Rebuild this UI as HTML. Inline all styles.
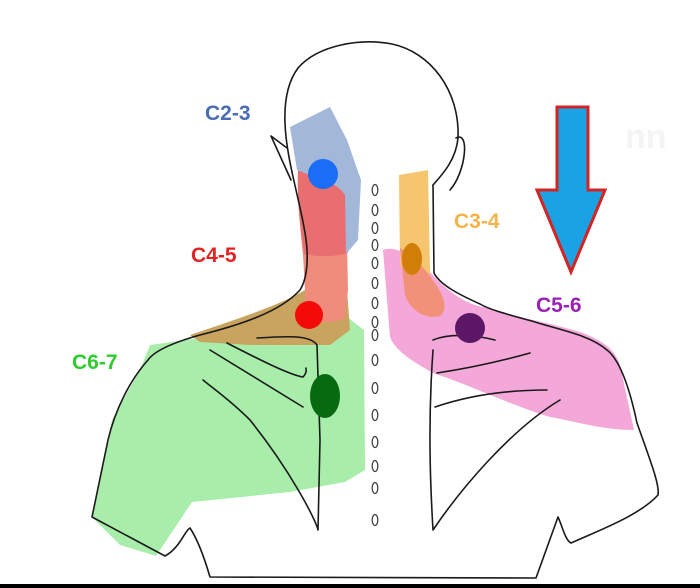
<!DOCTYPE html>
<html><head><style>
html,body{margin:0;padding:0;background:#fff;}
svg{display:block;}
text{font-family:"Liberation Sans",sans-serif;font-weight:bold;}
</style></head><body>
<svg width="700" height="588" viewBox="0 0 700 588" xmlns="http://www.w3.org/2000/svg">
<rect width="700" height="588" fill="#fff"/>
<text x="625" y="148" font-size="34" fill="#f4f4f4" font-weight="normal">nn</text>
<!-- colored regions -->
<path d="M150,345 L347,317 L364,330 L365,470 L345,482 L290,492 L192,502 L156,556 L120,545 L92,517 L112,420 L140,370 Z" fill="#a8eeaa"/>
<path d="M190,335 C240,318 280,305 305,290 L347,290 L350,330 L330,345 L250,345 L200,342 Z" fill="#c9a45e"/>
<path d="M298,170 C320,180 340,182 346,195 L348,290 L345,318 C330,325 315,322 306,318 L305,290 L303,255 C300,225 297,200 298,170 Z" fill="#f08c7c"/>
<path d="M298,170 C320,180 340,182 346,195 L348,253 C330,258 315,256 304,254 C300,225 297,200 298,170 Z" fill="#e86e70"/>
<path d="M290,127 L330,107 L347,140 L361,180 L358,240 L346,254 L345,195 C335,180 315,178 297,170 Z" fill="#a3b7d8"/>
<path d="M383,250 C395,245 410,255 430,272 C450,295 470,305 483,307 C520,318 560,325 583,333 C605,342 615,350 620,365 L634,430 C600,430 570,420 550,417 C510,405 470,385 433,373 C410,360 395,350 390,337 Z" fill="#f4a8da"/>
<path d="M399,175 L428,170 L430,273 L425,285 C415,280 405,275 400,265 Z" fill="#f6c570"/>
<path d="M400,248 C412,255 425,268 435,283 C445,298 448,310 440,316 C425,320 410,310 405,295 Z" fill="#f2917a"/>
<!-- outlines -->
<g fill="none" stroke="#1a1a1a" stroke-width="1.6" stroke-linecap="round" stroke-linejoin="round">
<path d="M292,172 C285,140 278,95 298,68 C318,45 360,38 392,44 C430,52 460,90 458,138 C456,160 442,175 433,185"/>
<path d="M287,148 L271,136 L291,180"/>
<path d="M456,138 C470,130 466,172 450,190"/>
<path d="M292,172 C298,200 306,230 307,250 C308,270 305,282 300,290 C280,312 240,325 200,335 C175,342 155,350 148,360 C130,380 115,410 108,440 L92,517 L165,556 C180,548 185,530 190,528 C198,540 205,560 210,577 L536,578 L558,517 C562,525 565,540 571,543 C600,530 640,515 658,495 C660,485 650,460 637,423 C630,390 620,360 607,350 C590,335 560,330 535,322 C510,315 490,310 480,304 C460,295 440,285 434,273 L433,185"/>
<path d="M257,338 C290,336 310,335 317,345 L320,440 L318,530 C316,520 290,470 250,420 C230,400 215,390 203,380"/>
<path d="M210,350 L303,407"/>
<path d="M227,343 C260,360 290,375 303,377 C307,373 306,370 306,368"/>
<path d="M433,340 C450,333 475,335 495,340"/>
<path d="M433,350 C428,420 430,480 433,530 C460,490 510,430 560,400"/>
<path d="M437,373 C470,368 505,360 530,353"/>
<path d="M435,407 C470,395 510,390 547,390"/>
</g>
<!-- vertebrae -->
<g fill="none" stroke="#444" stroke-width="1.3">
<ellipse cx="375" cy="190" rx="2.8" ry="5.5"/><ellipse cx="375" cy="210" rx="2.8" ry="5.5"/>
<ellipse cx="375" cy="228" rx="2.8" ry="5.5"/><ellipse cx="375" cy="245" rx="2.8" ry="5.5"/>
<ellipse cx="375" cy="263" rx="2.8" ry="5.5"/><ellipse cx="375" cy="283" rx="2.8" ry="5.5"/>
<ellipse cx="375" cy="303" rx="2.8" ry="5.5"/><ellipse cx="375" cy="322" rx="2.8" ry="5.5"/>
<ellipse cx="375" cy="335" rx="2.8" ry="5.5"/><ellipse cx="375" cy="360" rx="2.8" ry="5.5"/>
<ellipse cx="375" cy="388" rx="2.8" ry="5.5"/><ellipse cx="375" cy="415" rx="2.8" ry="5.5"/>
<ellipse cx="375" cy="442" rx="2.8" ry="5.5"/><ellipse cx="375" cy="466" rx="2.8" ry="5.5"/>
<ellipse cx="375" cy="488" rx="2.8" ry="5.5"/><ellipse cx="375" cy="520" rx="2.8" ry="5.5"/>
</g>
<!-- dots -->
<circle cx="323" cy="174" r="15" fill="#1a6ef5"/>
<circle cx="309" cy="315" r="14" fill="#f50a0a"/>
<ellipse cx="325" cy="396" rx="15" ry="22" fill="#086a10"/>
<ellipse cx="412" cy="259" rx="10" ry="16" fill="#d07e08"/>
<circle cx="470" cy="328" r="15" fill="#5c1766"/>
<!-- labels -->
<text x="205" y="120" font-size="21" fill="#4a6db4">C2-3</text>
<text x="191" y="262" font-size="21" fill="#e02424">C4-5</text>
<text x="72" y="369" font-size="21" fill="#2ecc2e">C6-7</text>
<text x="454" y="228" font-size="21" fill="#f2b44a">C3-4</text>
<text x="536" y="312" font-size="21" fill="#9a22b2">C5-6</text>
<!-- arrow -->
<path d="M557,107 L588,107 L588,190 L605,190 L571,272 L537,190 L557,190 Z" fill="#1aa3e3" stroke="#d42323" stroke-width="3" stroke-linejoin="miter"/>
<rect x="0" y="584" width="700" height="4" fill="#000"/>
</svg>
</body></html>
